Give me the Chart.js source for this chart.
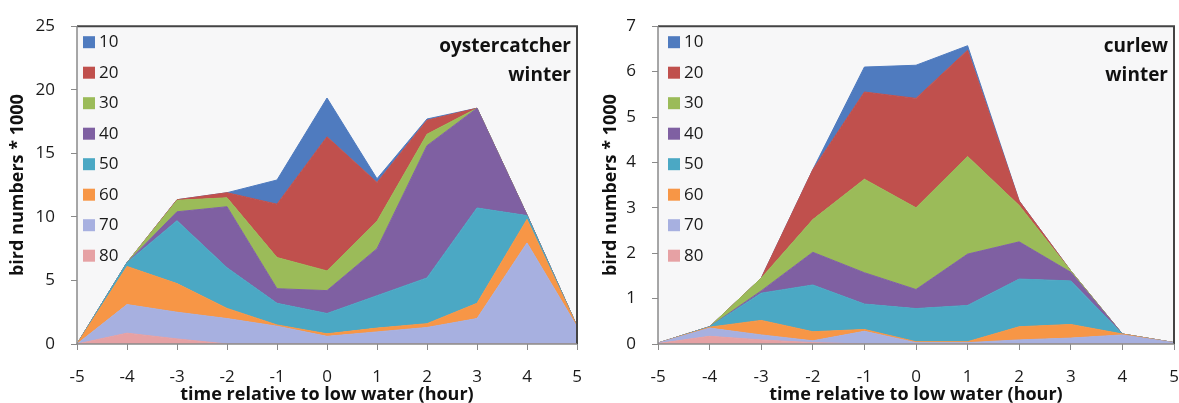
<!DOCTYPE html>
<html>
<head>
<meta charset="utf-8">
<script src="https://cdn.jsdelivr.net/npm/chart.js@4.4.1/dist/chart.umd.min.js"></script>
<style>
  body { margin: 0; background: #fff; }
  .panel { position: absolute; top: 0; height: 403px; }
  #oyster { left: 0; width: 590px; }
  #curlew { left: 590px; width: 589px; }
</style>
</head>
<body>
<div class="panel" id="oyster"><canvas id="oysterChart"></canvas></div>
<div class="panel" id="curlew"><canvas id="curlewChart"></canvas></div>
<script>
const hours = ['-5', '-4', '-3', '-2', '-1', '0', '1', '2', '3', '4', '5'];
const sizeClasses = ['10', '20', '30', '40', '50', '60', '70', '80'];
const classColors = ['#4f7bbf', '#c0504d', '#9bbb59', '#7f60a2', '#4ba8c4', '#f79646', '#a7b0e0', '#e6a1a4'];

// oystercatcher winter, per size class (bird numbers * 1000)
const oyster10 = [0, 0, 0, 0, 1.9, 3.05, 0.3, 0.1, 0, 0, 0];
const oyster20 = [0, 0, 0.05, 0.4, 4.2, 10.55, 3.05, 1.1, 0, 0, 0];
const oyster30 = [0, 0, 0.9, 0.7, 2.45, 1.55, 2.15, 0.9, 0, 0, 0];
const oyster40 = [0, 0, 0.7, 4.8, 1.15, 1.8, 3.7, 10.4, 7.85, 0.05, 0];
const oyster50 = [0, 0.3, 4.95, 3.2, 1.7, 1.6, 2.55, 3.6, 7.5, 0.3, 0];
const oyster60 = [0, 3.0, 2.25, 0.8, 0.1, 0.2, 0.3, 0.3, 1.2, 1.85, 0.05];
const oyster70 = [0, 2.25, 2.1, 2.0, 1.4, 0.6, 0.95, 1.3, 2.0, 7.95, 1.35];
const oyster80 = [0, 0.85, 0.4, 0, 0, 0, 0, 0, 0, 0, 0];

// curlew winter
const curlew10 = [0, 0, 0, 0, 0.55, 0.73, 0.1, 0, 0, 0, 0];
const curlew20 = [0, 0, 0, 1.1, 1.92, 2.41, 2.34, 0.1, 0, 0, 0];
const curlew30 = [0, 0, 0.28, 0.72, 2.06, 1.8, 2.15, 0.8, 0.03, 0, 0];
const curlew40 = [0, 0, 0.05, 0.72, 0.69, 0.42, 1.13, 0.82, 0.19, 0, 0];
const curlew50 = [0, 0.01, 0.6, 1.03, 0.56, 0.73, 0.8, 1.05, 0.96, 0, 0];
const curlew60 = [0, 0.02, 0.32, 0.2, 0.04, 0.02, 0.02, 0.29, 0.3, 0.02, 0];
const curlew70 = [0.01, 0.18, 0.11, 0.04, 0.28, 0.03, 0.03, 0.09, 0.13, 0.2, 0.03];
const curlew80 = [0.01, 0.17, 0.09, 0.03, 0, 0, 0, 0, 0, 0, 0];

const oysterSeries = [oyster10, oyster20, oyster30, oyster40, oyster50, oyster60, oyster70, oyster80];
const curlewSeries = [curlew10, curlew20, curlew30, curlew40, curlew50, curlew60, curlew70, curlew80];

const fontFamily = "'Open Sans', Lato, sans-serif";

// draws plot background, frame, in-plot legend and species label
const panelPlugin = {
    id: 'panel',
    beforeDatasetsDraw(chart, args, opts) {
        const { ctx, chartArea: a } = chart;
        ctx.save();
        ctx.fillStyle = '#f7f7f8';
        ctx.fillRect(a.left, a.top, a.right - a.left, a.bottom - a.top);
        ctx.restore();
    },
    afterDraw(chart, args, opts) {
        const { ctx, chartArea: a } = chart;
        ctx.save();
        ctx.strokeStyle = '#444';
        ctx.lineWidth = 2;
        ctx.beginPath();
        ctx.moveTo(a.left, a.top);
        ctx.lineTo(a.right, a.top);
        ctx.lineTo(a.right, a.bottom);
        ctx.stroke();

        ctx.strokeStyle = '#8a8a8a';
        ctx.lineWidth = 1.5;
        ctx.beginPath();
        ctx.moveTo(a.left, a.top);
        ctx.lineTo(a.left, a.bottom);
        ctx.lineTo(a.right, a.bottom);
        ctx.stroke();

        // legend, 10 on top
        ctx.font = `17px ${fontFamily}`;
        ctx.textBaseline = 'middle';
        ctx.textAlign = 'left';
        sizeClasses.forEach((c, i) => {
            const y = a.top + 16 + i * 30.5;
            ctx.fillStyle = classColors[i];
            ctx.fillRect(a.left + opts.boxX, y - 6, 12, 12);
            ctx.fillStyle = '#1a1a1a';
            ctx.fillText(c, a.left + opts.boxX + 16, y);
        });

        ctx.font = `bold 19px ${fontFamily}`;
        ctx.textAlign = 'right';
        ctx.fillStyle = '#111';
        opts.lines.forEach((t, i) => {
            ctx.fillText(t, a.right - 6, a.top + 20 + i * 29);
        });
        ctx.restore();
    }
};

function buildChart(canvasId, series, speciesLines, yMax, yStep, pad, yWidth, yTitlePad, boxX) {
    // stack from the largest class at the bottom up to 10 on top
    const datasets = [];
    for (let i = series.length - 1; i >= 0; i--) {
        datasets.push({
            label: sizeClasses[i],
            data: series[i],
            backgroundColor: classColors[i],
            borderColor: classColors[i],
            borderWidth: 1,
            pointRadius: 0,
            tension: 0,
            fill: datasets.length === 0 ? 'origin' : '-1'
        });
    }

    return new Chart(document.getElementById(canvasId), {
        type: 'line',
        data: { labels: hours, datasets },
        plugins: [panelPlugin],
        options: {
            responsive: true,
            maintainAspectRatio: false,
            animation: false,
            layout: { padding: pad },
            plugins: {
                legend: { display: false },
                tooltip: { enabled: false },
                panel: { lines: speciesLines, boxX: boxX }
            },
            scales: {
                x: {
                    offset: false,
                    grid: { drawOnChartArea: false, drawTicks: true, tickLength: 6, color: '#8a8a8a' },
                    border: { display: false },
                    ticks: { color: '#1a1a1a', font: { family: fontFamily, size: 17 }, padding: 17, maxRotation: 0 },
                    title: {
                        display: true,
                        text: 'time relative to low water (hour)',
                        color: '#111',
                        font: { family: fontFamily, size: 18, weight: 'bold', lineHeight: 1 },
                        padding: { top: 0, bottom: -1 }
                    },
                    afterFit(scale) {
                        scale.height = 59;
                        scale.paddingLeft = 0;
                        scale.paddingRight = 0;
                    }
                },
                y: {
                    stacked: true,
                    min: 0,
                    max: yMax,
                    grid: { drawOnChartArea: false, drawTicks: true, tickLength: 6, color: '#8a8a8a' },
                    border: { display: false },
                    ticks: { stepSize: yStep, color: '#1a1a1a', font: { family: fontFamily, size: 17 }, padding: 16 },
                    title: {
                        display: true,
                        text: 'bird numbers * 1000',
                        color: '#111',
                        font: { family: fontFamily, size: 18, weight: 'bold', lineHeight: 1 },
                        padding: { top: yTitlePad, bottom: 0 }
                    },
                    afterFit(scale) { scale.width = yWidth; }
                }
            }
        }
    });
}

buildChart('oysterChart', oysterSeries, ['oystercatcher', 'winter'], 25, 5,
    { top: 23, right: 13, bottom: 0, left: 0 }, 77, 9, 6);
buildChart('curlewChart', curlewSeries, ['curlew', 'winter'], 7, 1,
    { top: 22, right: 5, bottom: 0, left: 0 }, 68, 12, 10);
</script>
</body>
</html>
